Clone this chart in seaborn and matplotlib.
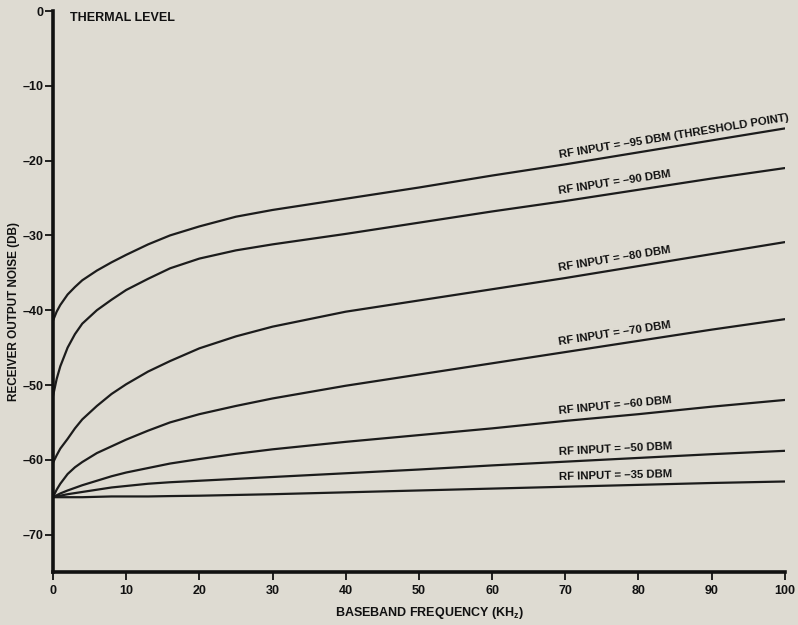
import numpy as np
import pandas as pd
import matplotlib
matplotlib.use("Agg")
import matplotlib.pyplot as plt
import seaborn as sns

# values (baseband frequency in kHz, noise in dB)
freq_khz = [0, 0.5, 1, 2, 3, 4, 6, 8, 10, 13, 16, 20, 25, 30, 40, 50, 60, 70, 80, 90, 100]

noise_95 = [-41.4, -40.2, -39.3, -37.9, -36.9, -36.0, -34.7, -33.6, -32.6, -31.2, -30.0,
            -28.8, -27.5, -26.6, -25.1, -23.6, -22.0, -20.5, -18.9, -17.3, -15.7]
noise_90 = [-51.5, -49.2, -47.5, -45.0, -43.2, -41.8, -40.0, -38.6, -37.3, -35.8, -34.4,
            -33.1, -32.0, -31.2, -29.8, -28.3, -26.8, -25.4, -23.9, -22.4, -21.0]
noise_80 = [-60.4, -59.4, -58.5, -57.2, -55.8, -54.6, -52.8, -51.2, -49.9, -48.2, -46.8,
            -45.1, -43.5, -42.2, -40.2, -38.7, -37.2, -35.7, -34.1, -32.5, -30.9]
noise_70 = [-65.0, -64.0, -63.2, -61.9, -61.0, -60.3, -59.1, -58.2, -57.3, -56.1, -55.0,
            -53.9, -52.8, -51.8, -50.1, -48.6, -47.1, -45.6, -44.1, -42.6, -41.2]
noise_60 = [-65.0, -64.75, -64.5, -64.1, -63.75, -63.4, -62.8, -62.2, -61.7, -61.1, -60.5,
            -59.9, -59.2, -58.6, -57.6, -56.7, -55.8, -54.8, -53.9, -52.9, -52.0]
noise_50 = [-65.0, -64.9, -64.8, -64.6, -64.45, -64.3, -64.0, -63.7, -63.5, -63.2, -63.0,
            -62.8, -62.55, -62.3, -61.8, -61.3, -60.75, -60.25, -59.75, -59.25, -58.8]
noise_35 = [-65.0, -65.0, -65.0, -65.0, -65.0, -65.0, -64.95, -64.9, -64.9, -64.9, -64.85,
            -64.8, -64.7, -64.6, -64.35, -64.1, -63.85, -63.6, -63.35, -63.1, -62.9]

series_labels = [
    "RF INPUT = –95 DBM (THRESHOLD POINT)",
    "RF INPUT = –90 DBM",
    "RF INPUT = –80 DBM",
    "RF INPUT = –70 DBM",
    "RF INPUT = –60 DBM",
    "RF INPUT = –50 DBM",
    "RF INPUT = –35 DBM",
]
series_values = [noise_95, noise_90, noise_80, noise_70, noise_60, noise_50, noise_35]

x_ticks = [0, 10, 20, 30, 40, 50, 60, 70, 80, 90, 100]
y_ticks = [0, -10, -20, -30, -40, -50, -60, -70]
y_tick_labels = ["0", "–10", "–20", "–30", "–40", "–50", "–60", "–70"]

paper = "#dedbd2"
ink = "#1c1c1c"

sns.set_theme(style="ticks")
plt.rcParams.update(
    {
        "font.family": ["Liberation Sans", "DejaVu Sans"],
        "font.weight": "bold",
        "mathtext.fontset": "custom",
        "mathtext.bf": "Liberation Sans:bold",
        "mathtext.rm": "Liberation Sans:bold",
    }
)

df = pd.concat(
    [
        pd.DataFrame({"freq": freq_khz, "noise": vals, "series": lab})
        for lab, vals in zip(series_labels, series_values)
    ],
    ignore_index=True,
)

fig = plt.figure(figsize=(7.98, 6.25), dpi=100, facecolor=paper)
ax = fig.add_axes([0.0664, 0.0848, 0.917, 0.8976])
ax.set_facecolor(paper)

sns.lineplot(
    data=df,
    x="freq",
    y="noise",
    hue="series",
    palette={lab: ink for lab in series_labels},
    linewidth=1.6,
    sort=False,
    legend=False,
    ax=ax,
)

ax.set_xlim(0, 100)
ax.set_ylim(-75, 0)
ax.set_xticks(x_ticks)
ax.set_yticks(y_ticks)
ax.set_yticklabels(y_tick_labels)

sns.despine(ax=ax)
for side in ("left", "bottom"):
    ax.spines[side].set_linewidth(2.6)
    ax.spines[side].set_color("#111111")

ax.tick_params(axis="y", direction="out", length=6, width=1.3, pad=1,
               labelsize=9, colors="#111111")
ax.tick_params(axis="x", direction="out", length=6, width=1.3, pad=3,
               labelsize=9, colors="#111111")
for lbl in ax.get_xticklabels() + ax.get_yticklabels():
    lbl.set_fontweight("bold")

ax.set_xlabel(r"BASEBAND FREQUENCY (KH$_\mathbf{z}$)", fontsize=9,
              fontweight="bold", color="#111111")
ax.xaxis.set_label_coords(0.515, -0.058)
ax.set_ylabel("RECEIVER OUTPUT NOISE (DB)", fontsize=8.5,
              fontweight="bold", color="#111111")
ax.yaxis.set_label_coords(-0.045, 0.465)

ax.text(2.3, -0.9, "THERMAL LEVEL", fontsize=9, fontweight="bold",
        color="#111111", ha="left", va="center")

# curve labels sit just above each line, starting near 70 kHz
i0 = freq_khz.index(70)
i1 = freq_khz.index(90)
for lab, vals in zip(series_labels, series_values):
    p0 = ax.transData.transform((freq_khz[i0], vals[i0]))
    p1 = ax.transData.transform((freq_khz[i1], vals[i1]))
    angle = np.degrees(np.arctan2(p1[1] - p0[1], p1[0] - p0[0]))
    ax.text(
        freq_khz[i0] - 0.8,
        vals[i0] + 0.9,
        lab,
        fontsize=8.2,
        fontweight="bold",
        color="#111111",
        rotation=angle,
        rotation_mode="anchor",
        ha="left",
        va="baseline",
    )

fig.savefig("out.png", dpi=100, facecolor=paper)
